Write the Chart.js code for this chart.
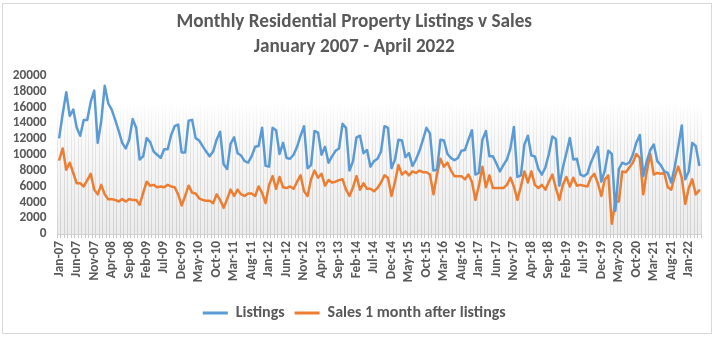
<!DOCTYPE html>
<html>
<head>
<meta charset="utf-8">
<script src="https://cdn.jsdelivr.net/npm/chart.js@4.4.1/dist/chart.umd.min.js"></script>
<style>
  html, body { margin: 0; padding: 0; background: #ffffff; }
  #wrap { position: relative; width: 720px; height: 339px; }
</style>
</head>
<body>
<div id="wrap"><canvas id="c" width="720" height="339"></canvas></div>
<script>
const TITLE_LINES = ['Monthly Residential Property Listings v Sales', 'January 2007 - April 2022'];
const MONTH_NAMES = ['Jan','Feb','Mar','Apr','May','Jun','Jul','Aug','Sep','Oct','Nov','Dec'];
const FIRST_YEAR = 2007;
const MONTH_COUNT = 184; // Jan-07 .. Apr-22
const LABEL_EVERY = 5;
const Y_TICKS = [0, 2000, 4000, 6000, 8000, 10000, 12000, 14000, 16000, 18000, 20000];

const listings = [
  12200,15200,17900,14900,15700,13400,12400,14400,14400,16700,18100,11500,
  14200,18700,16500,15700,14400,13000,11500,10800,11900,14500,13400,9400,
  9800,12100,11600,10400,10000,9600,10700,10700,12500,13600,13800,10300,
  10300,14300,14400,12100,11800,11100,10400,9800,10400,11900,12900,8800,
  8200,11400,12200,10200,9900,9200,9000,9800,11000,11100,13400,8600,
  8500,13400,13100,10100,11500,9600,9500,10000,11000,12400,13600,8300,
  8700,13000,12800,10000,11000,9000,9800,10500,10800,13900,13400,8000,
  9200,12200,12400,10200,10600,8500,9200,9500,10400,13600,13400,8300,
  9400,11900,11800,9700,10200,8600,9400,10500,11900,13400,12700,8000,
  8100,11900,11800,10100,9600,9300,9600,10500,10600,11900,13100,7500,
  7700,11900,13000,9800,9800,8900,7900,8700,9400,10800,13500,7200,
  7400,11300,12400,9900,9800,8200,7500,8400,10100,12300,12000,6100,
  8400,10200,12100,9400,9500,7500,7300,7600,9000,10000,11000,6600,
  8000,10500,10100,2900,8200,9000,8800,9000,10000,11500,12500,7300,
  9200,10600,11300,9200,8700,7900,7700,6500,8500,11000,13700,6900,
  7900,11500,11100,8700
];

const sales = [
  9400,10800,8100,9000,7700,6400,6400,6000,6800,7600,5600,5000,
  6200,5000,4400,4400,4300,4100,4400,4100,4400,4300,4300,3700,
  5200,6600,6100,6200,5900,6000,5900,6200,6000,5900,5000,3600,
  4800,6100,5200,5100,4500,4300,4200,4200,3900,5000,4300,3300,
  4400,5600,4800,5600,5000,4800,5100,5100,4800,6000,5200,3900,
  6200,7300,5700,7200,5900,5800,6000,5700,6600,7400,5400,4800,
  6900,8000,7100,7600,6100,6800,6500,6600,6800,6900,5600,4800,
  5900,7300,5600,6400,5700,5700,5400,5800,6500,7400,7100,4800,
  6600,8700,7500,7900,7400,7900,7700,8000,7800,7800,7500,5000,
  7500,9500,8500,9000,8000,7300,7300,7300,6900,7500,6600,4300,
  6100,8500,5900,7400,5800,5800,5800,5800,6200,7100,6000,4300,
  6000,7900,6500,7900,6200,5800,6200,5600,6600,7500,5800,4300,
  6200,7200,6000,7100,6100,6200,6100,6000,7100,7600,6400,4800,
  6900,7400,1300,4100,4100,7900,7800,8400,9000,10100,9600,5000,
  7900,10100,7500,7700,7600,7700,5900,5600,7300,8500,7100,3800,
  5800,6900,5000,5500
];

const categories = [];
for (let i = 0; i < MONTH_COUNT; i++) {
  const y = FIRST_YEAR + Math.floor(i / 12);
  categories.push(MONTH_NAMES[i % 12] + '-' + String(y % 100).padStart(2, '0'));
}

const FONT = "Carlito, Calibri, Lato, 'Open Sans', sans-serif";
const TEXT = '#595959';

const bgPlugin = {
  id: 'bgPlugin',
  beforeDraw(chart) {
    const { ctx, chartArea: a } = chart;
    ctx.save();
    ctx.strokeStyle = '#d9d9d9';
    ctx.lineWidth = 1;
    ctx.strokeRect(2.5, 3.5, 709, 330);
    const g = ctx.createLinearGradient(0, a.top, 0, a.bottom);
    g.addColorStop(0, '#ffffff');
    g.addColorStop(0.15, '#ffffff');
    g.addColorStop(1, '#ececec');
    ctx.fillStyle = g;
    ctx.fillRect(a.left, a.top, a.right - a.left, a.bottom - a.top);
    ctx.restore();
  }
};

function gridGradient(context) {
  const chart = context.chart;
  const a = chart.chartArea;
  if (!a) return '#d9d9d9';
  const g = chart.ctx.createLinearGradient(0, a.top, 0, a.bottom);
  g.addColorStop(0, 'rgba(205,205,205,0)');
  g.addColorStop(0.18, 'rgba(205,205,205,0)');
  g.addColorStop(0.45, 'rgba(205,205,205,0.45)');
  g.addColorStop(1, 'rgba(200,200,200,0.75)');
  return g;
}

new Chart(document.getElementById('c'), {
  type: 'line',
  data: {
    labels: categories,
    datasets: [
      { label: 'Listings', data: listings, borderColor: '#5B9BD5', backgroundColor: '#5B9BD5',
        borderWidth: 2.5, pointRadius: 0, tension: 0, borderJoinStyle: 'round', borderCapStyle: 'round' },
      { label: 'Sales 1 month after listings', data: sales, borderColor: '#ED7D31', backgroundColor: '#ED7D31',
        borderWidth: 2.5, pointRadius: 0, tension: 0, borderJoinStyle: 'round', borderCapStyle: 'round' }
    ]
  },
  options: {
    responsive: false,
    animation: false,
    events: [],
    layout: { padding: { left: 7.5, right: 19, top: 0, bottom: 8 } },
    plugins: {
      title: {
        display: true,
        text: TITLE_LINES,
        color: TEXT,
        font: { family: FONT, size: 19.2, weight: 'bold', lineHeight: 1.3 },
        padding: { top: 10, bottom: 15.6 }
      },
      legend: {
        position: 'bottom',
        labels: {
          color: TEXT,
          font: { family: FONT, size: 16, weight: 'bold' },
          boxWidth: 25,
          boxHeight: 3,
          padding: 10,
          generateLabels(chart) {
            return chart.data.datasets.map((ds, i) => ({
              text: ds.label, fillStyle: ds.borderColor, strokeStyle: ds.borderColor,
              lineWidth: 0, hidden: false, datasetIndex: i, fontColor: TEXT
            }));
          }
        }
      },
      tooltip: { enabled: false }
    },
    scales: {
      x: {
        offset: true,
        grid: { display: true, color: gridGradient, lineWidth: 1, drawTicks: true, tickLength: 4, tickColor: '#c8c8c8', offset: true },
        border: { display: true, color: '#d0d0d0', width: 1 },
        ticks: {
          autoSkip: false, maxRotation: 90, minRotation: 90, padding: 3,
          color: TEXT, font: { family: FONT, size: 13.3, weight: 'bold' },
          callback(v, i) { return i % LABEL_EVERY === 0 ? categories[i] : ''; }
        },
        afterFit(s) { s.height = 61; }
      },
      y: {
        min: 0, max: 20000,
        afterBuildTicks(s) { s.ticks = Y_TICKS.map(v => ({ value: v })); },
        grid: { display: false, drawTicks: false },
        border: { display: false },
        ticks: { autoSkip: false, color: TEXT, padding: 11, font: { family: FONT, size: 13.3, weight: 'bold' },
          callback(v) { return String(v); } },
        afterFit(s) { s.width = 50; }
      }
    }
  },
  plugins: [bgPlugin]
});
</script>
</body>
</html>
